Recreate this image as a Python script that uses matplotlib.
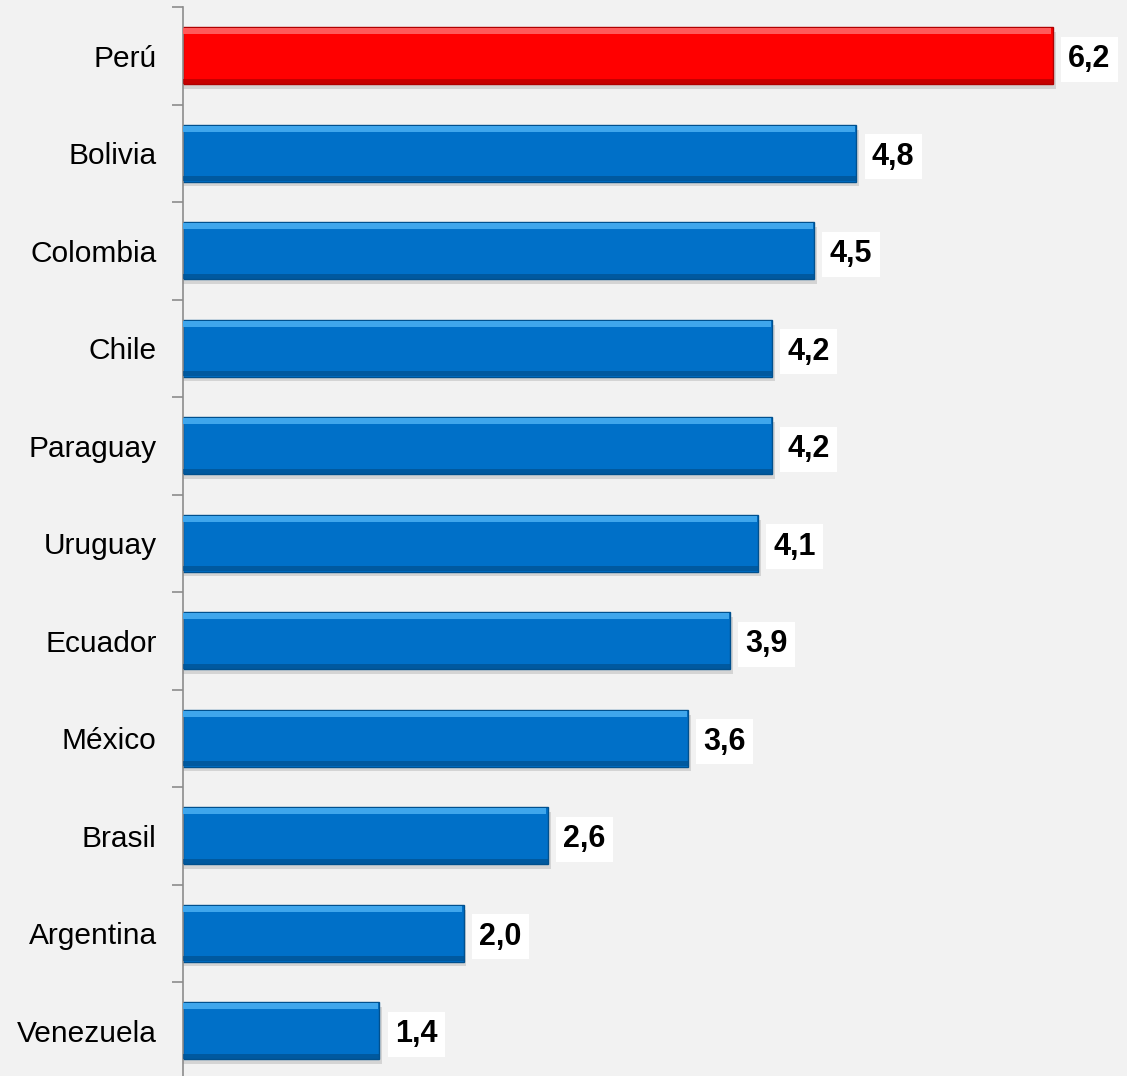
import matplotlib.pyplot as plt

plt.rcParams['font.family'] = ['Liberation Sans', 'DejaVu Sans']

# Growth by country, top to bottom
countries = ["Perú", "Bolivia", "Colombia", "Chile", "Paraguay", "Uruguay",
             "Ecuador", "México", "Brasil", "Argentina", "Venezuela"]
values = [6.2, 4.8, 4.5, 4.2, 4.2, 4.1, 3.9, 3.6, 2.6, 2.0, 1.4]
labels = ["6,2", "4,8", "4,5", "4,2", "4,2", "4,1", "3,9", "3,6", "2,6", "2,0", "1,4"]

bg = "#f2f2f2"
fig = plt.figure(figsize=(11.27, 10.76), dpi=100, facecolor=bg)
ax = fig.add_axes([183 / 1127, -3.5 / 1076, 1 - 183 / 1127, 1072.5 / 1076])
ax.set_facecolor(bg)

n = len(countries)
ypos = list(range(n))
h = 0.58
colors = ["#ff0000" if c == "Perú" else "#0070c8" for c in countries]
tops = ["#ff5a5a" if c == "Perú" else "#3fa6ec" for c in countries]
edges = ["#b00000" if c == "Perú" else "#00508e" for c in countries]

# soft shadow under each bar
ax.barh([y + 0.05 for y in ypos], [v + 0.02 for v in values], height=h,
        color="#000000", alpha=0.12, zorder=1)
# base bar
ax.barh(ypos, values, height=h, color=colors, edgecolor=edges, linewidth=1.0, zorder=2)
# light bevel strip along the top edge
ax.barh([y - h / 2 + 0.04 for y in ypos], [v - 0.01 for v in values], height=0.06,
        color=tops, linewidth=0, zorder=3)
# darker bevel strip along the bottom edge
ax.barh([y + h / 2 - 0.03 for y in ypos], values, height=0.05,
        color=edges, alpha=0.7, linewidth=0, zorder=3)

for y, v, t in zip(ypos, values, labels):
    ax.text(v + 0.11, y, t, ha="left", va="center_baseline", fontsize=22,
            fontweight="bold", color="black", zorder=5,
            bbox=dict(boxstyle="square,pad=0.24", fc="white", ec="none"))

ax.set_ylim(n - 0.5, -0.5)
ax.set_xlim(0, (1127 - 183) / 140.3)
ax.set_yticks(ypos)
ax.set_yticklabels(countries, fontsize=21.5)
ax.set_yticks([y - 0.5 for y in ypos] + [n - 0.5], minor=True)
ax.tick_params(axis="y", which="major", length=0, pad=19)
ax.tick_params(axis="y", which="minor", length=8, color="#8c8c8c", width=1.2)
ax.set_xticks([])
for s in ["top", "right", "bottom"]:
    ax.spines[s].set_visible(False)
ax.spines["left"].set_color("#8c8c8c")
ax.spines["left"].set_linewidth(1.2)

fig.savefig("out.png", dpi=100, facecolor=bg)
